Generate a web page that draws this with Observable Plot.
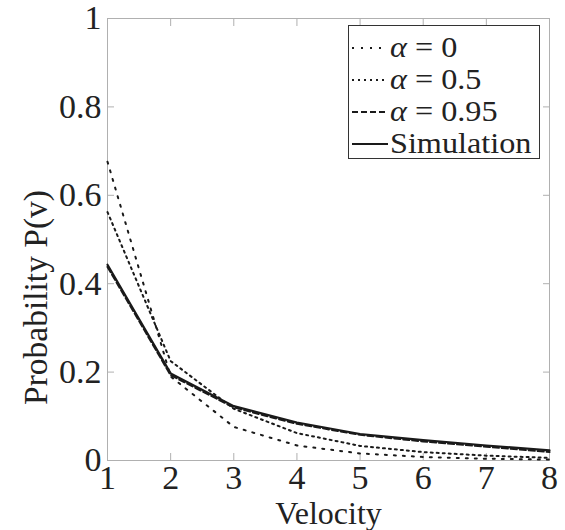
<!DOCTYPE html>
<html><head><meta charset="utf-8">
<script src="https://cdn.jsdelivr.net/npm/d3@7"></script>
<script src="https://cdn.jsdelivr.net/npm/@observablehq/plot@0.6"></script>
<style>
body{margin:0;background:#fff;}
#wrap{position:relative;width:565px;height:530px;font-family:"Liberation Serif","Times New Roman",serif;}
#legend{position:absolute;left:348px;top:25px;width:192px;height:134px;border:1px solid #333;background:#fff;box-sizing:border-box;padding-top:6px;}
.row{display:flex;align-items:center;height:32px;font-size:28.5px;color:#222;white-space:pre;line-height:30px;}
.row span{display:inline-block;height:30px;line-height:30px;transform:scaleX(1.13);transform-origin:left center;}
.row svg{margin-left:3px;margin-right:2px;flex:none;}
</style></head>
<body><div id="wrap"></div>
<script>
const velocity = [1, 2, 3, 4, 5, 6, 7, 8];
const alpha0   = [0.676, 0.19, 0.076, 0.034, 0.016, 0.008, 0.004, 0.002];
const alpha05  = [0.562, 0.225, 0.117, 0.062, 0.033, 0.019, 0.011, 0.006];
const alpha095 = [0.438, 0.193, 0.120, 0.083, 0.058, 0.043, 0.031, 0.019];
const simulation = [0.443, 0.197, 0.123, 0.086, 0.060, 0.046, 0.034, 0.023];
const xTicks = [1, 2, 3, 4, 5, 6, 7, 8];
const yTicks = [0, 0.2, 0.4, 0.6, 0.8, 1];
const legendLabels = ["α = 0", "α = 0.5", "α = 0.95", "Simulation"];
const xLabel = "Velocity";
const yLabel = "Probability P(v)";

const rows = arr => velocity.map((v, i) => ({v, p: arr[i]}));
const ink = "#1a1a1a";
const grey = "#b0b0b0";
const blank = () => "";

const chart = Plot.plot({
  width: 565, height: 530,
  marginLeft: 107, marginRight: 16, marginTop: 18, marginBottom: 70,
  style: {fontFamily: '"Liberation Serif","Times New Roman",serif', fontSize: "34px", background: "#fff", color: "#222"},
  x: {domain: [1, 8]},
  y: {domain: [0, 1]},
  marks: [
    Plot.frame({stroke: grey}),
    Plot.axisX({anchor: "bottom", ticks: xTicks, tickSize: 0, tickPadding: 4, label: null, fontSize: 34, fill: "#222", tickFormat: d => String(d)}),
    Plot.axisY({anchor: "left", ticks: yTicks, tickSize: 0, tickPadding: 6, label: null, fontSize: 34, fill: "#222", tickFormat: d => String(d)}),
    Plot.axisX({anchor: "bottom", ticks: xTicks, tickSize: 7, dy: -7, tickFormat: blank, label: null, stroke: grey}),
    Plot.axisX({anchor: "top", ticks: xTicks, tickSize: 7, dy: 7, tickFormat: blank, label: null, stroke: grey}),
    Plot.axisY({anchor: "left", ticks: yTicks, tickSize: 7, dx: 7, tickFormat: blank, label: null, stroke: grey}),
    Plot.axisY({anchor: "right", ticks: yTicks, tickSize: 7, dx: -7, tickFormat: blank, label: null, stroke: grey}),
    Plot.line(rows(alpha0), {x: "v", y: "p", stroke: ink, strokeWidth: 2, strokeDasharray: "2,7"}),
    Plot.line(rows(alpha05), {x: "v", y: "p", stroke: ink, strokeWidth: 2, strokeDasharray: "2,4"}),
    Plot.line(rows(simulation), {x: "v", y: "p", stroke: ink, strokeWidth: 2.2}),
    Plot.line(rows(alpha095), {x: "v", y: "p", stroke: ink, strokeWidth: 2, strokeDasharray: "6,3"}),
    Plot.text([xLabel], {frameAnchor: "bottom", textAnchor: "middle", dy: 53, lineAnchor: "middle", fontSize: 32, fill: "#222"}),
    Plot.text([yLabel], {frameAnchor: "left", textAnchor: "middle", dx: -71, dy: 58, rotate: -90, lineAnchor: "middle", fontSize: 33.5, fill: "#222"})
  ]
});
const wrap = document.getElementById("wrap");
wrap.appendChild(chart);

const legend = document.createElement("div");
legend.id = "legend";
const dashes = ["2,7", "2,4", "6,3", null];
legendLabels.forEach((lab, i) => {
  const r = document.createElement("div");
  r.className = "row";
  const dash = dashes[i] ? ` stroke-dasharray="${dashes[i]}"` : "";
  const txt = lab.startsWith("α") ? `<i>α</i>${lab.slice(1)}` : lab;
  r.innerHTML = `<svg width="36" height="6"><line x1="0" y1="3" x2="36" y2="3" stroke="${ink}" stroke-width="2"${dash}/></svg><span>${txt}</span>`;
  legend.appendChild(r);
});
wrap.appendChild(legend);
</script>
</body></html>
